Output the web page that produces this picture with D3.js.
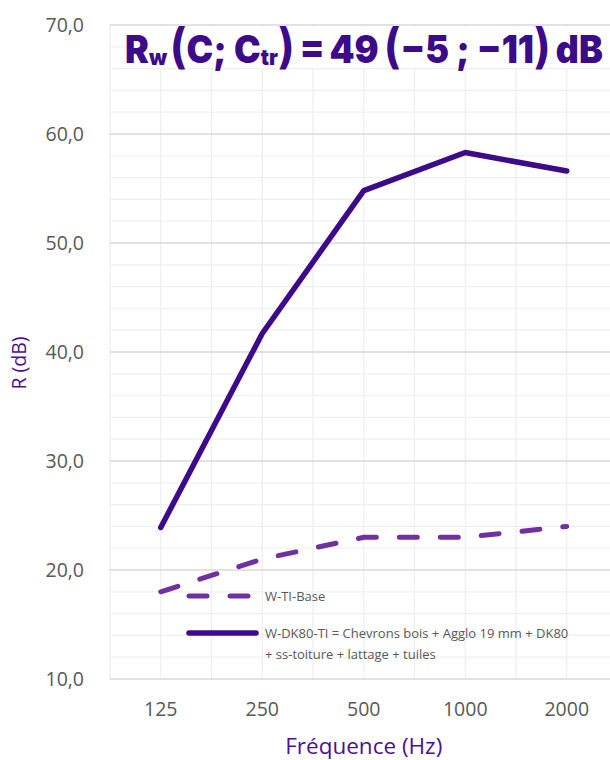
<!DOCTYPE html>
<html>
<head>
<meta charset="utf-8">
<script src="https://cdn.jsdelivr.net/npm/d3@7"></script>
<style>
  body { margin: 0; background: #fff; }
  svg { display: block; font-family: "Open Sans", sans-serif; }
</style>
</head>
<body>
<div id="chart"></div>
<script>
// data
const frequencies = ["125", "250", "500", "1000", "2000"];
const baseValues = [18.0, 21.0, 23.0, 23.0, 24.0];      // W-TI-Base (dashed)
const dk80Values = [23.9, 41.7, 54.8, 58.3, 56.6];      // W-DK80-TI (solid)
const yTicks = [10, 20, 30, 40, 50, 60, 70];
const legendLabels = [
  ["W-TI-Base"],
  ["W-DK80-TI = Chevrons bois + Agglo 19 mm + DK80", "+ ss-toiture + lattage + tuiles"]
];

const W = 610, H = 760;
const margin = { left: 110, top: 25, bottom: 81 };
const plotRight = 617.5;

const svg = d3.select("#chart").append("svg")
  .attr("width", W).attr("height", H);

const x = d3.scaleBand().domain(frequencies).range([margin.left, plotRight]).padding(0);
const bw = x.bandwidth();
const cx = d => x(d) + bw / 2;
const y = d3.scaleLinear().domain([10, 70]).range([H - margin.bottom, margin.top]);

// gridlines
const grid = svg.append("g");
const minor = d3.range(12, 70, 2).filter(v => v % 10 !== 0);
grid.selectAll(".hminor").data(minor).join("line")
  .attr("x1", margin.left).attr("x2", plotRight)
  .attr("y1", d => y(d)).attr("y2", d => y(d))
  .attr("stroke", "#f0f0f0").attr("stroke-width", 1.3);
const vlines = [];
frequencies.forEach(f => { vlines.push(x(f)); vlines.push(cx(f)); });
vlines.push(plotRight);
grid.selectAll(".v").data(vlines).join("line")
  .attr("x1", d => d).attr("x2", d => d)
  .attr("y1", y(70)).attr("y2", y(10))
  .attr("stroke", "#efefef").attr("stroke-width", 1.3);
grid.selectAll(".hmajor").data(yTicks).join("line")
  .attr("x1", margin.left).attr("x2", plotRight)
  .attr("y1", d => y(d)).attr("y2", d => y(d))
  .attr("stroke", "#d9d9d9").attr("stroke-width", 1.3);

// y axis tick labels
const yAxis = svg.append("g")
  .attr("transform", `translate(${margin.left - 23},0)`)
  .call(d3.axisLeft(y).tickValues(yTicks).tickSize(0).tickFormat(d => d3.format(".1f")(d).replace(".", ",")));
yAxis.select(".domain").remove();
yAxis.selectAll("text")
  .attr("font-family", "Open Sans, sans-serif")
  .attr("font-size", 19.5).attr("fill", "#595959");

// x axis tick labels
const xAxis = svg.append("g")
  .attr("transform", `translate(0,${y(10) + 20})`)
  .call(d3.axisBottom(x).tickSize(0));
xAxis.select(".domain").remove();
xAxis.selectAll("text")
  .attr("font-family", "Open Sans, sans-serif")
  .attr("font-size", 19.5).attr("fill", "#595959");

// axis titles
svg.append("text")
  .attr("x", cx("500")).attr("y", 754)
  .attr("text-anchor", "middle")
  .attr("font-size", 22.5).attr("fill", "#4a1290")
  .text("Fréquence (Hz)");
svg.append("text")
  .attr("transform", `translate(26,363) rotate(-90)`)
  .attr("text-anchor", "middle")
  .attr("font-size", 19.5).attr("fill", "#4a1290")
  .text("R (dB)");

// title with white box
svg.append("rect")
  .attr("x", 125).attr("y", 27).attr("width", 490).attr("height", 41)
  .attr("fill", "#fff");
const title = svg.append("text")
  .attr("x", 0).attr("y", 63)
  .attr("font-family", "Inter, sans-serif")
  .attr("font-weight", 900)
  .attr("font-size", 38)
  .attr("fill", "#3d0a8a");
const parts = [
  { t: "R", s: 38 }, { t: "w", s: 22, dy: 2 }, { t: "\u2009", s: 20, dy: -2 },
  { t: "(", s: 48, w: 700 }, { t: "C; C", s: 38 }, { t: "tr", s: 22, dy: 2 },
  { t: ")", s: 48, w: 700, dy: -2 }, { t: "\u2009=\u200949\u2009", s: 38 },
  { t: "(", s: 48, w: 700 }, { t: "−5 ; −11", s: 38 }, { t: ")", s: 48, w: 700 },
  { t: "\u2009dB", s: 38 }
];
parts.forEach(p => {
  title.append("tspan")
    .attr("font-size", p.s)
    .attr("font-weight", p.w || 900)
    .attr("dy", p.dy || 0)
    .text(p.t);
});
const tb = title.node().getBBox();
const tx0 = 125, tx1 = 603;
title.attr("transform", `translate(${tx0},0) scale(${(tx1 - tx0) / tb.width},1) translate(${-tb.x},0)`);

// lines
const line = d3.line().x((d, i) => cx(frequencies[i])).y(d => y(d));
svg.append("path").datum(baseValues)
  .attr("d", line).attr("fill", "none")
  .attr("stroke", "#7030a0").attr("stroke-width", 5)
  .attr("stroke-linecap", "round").attr("stroke-dasharray", "18,23");
svg.append("path").datum(dk80Values)
  .attr("d", line).attr("fill", "none")
  .attr("stroke", "#3d0a8a").attr("stroke-width", 5.5)
  .attr("stroke-linecap", "round").attr("stroke-linejoin", "round");

// legend
const lg = svg.append("g").attr("font-size", 13).attr("fill", "#595959");
const legendY = [596, 633];
const lx0 = 189, lx1 = 256;
lg.append("line").attr("x1", lx0).attr("x2", lx1).attr("y1", legendY[0]).attr("y2", legendY[0])
  .attr("stroke", "#7030a0").attr("stroke-width", 5)
  .attr("stroke-linecap", "round").attr("stroke-dasharray", "18,23");
lg.append("line").attr("x1", lx0).attr("x2", lx1).attr("y1", legendY[1]).attr("y2", legendY[1])
  .attr("stroke", "#3d0a8a").attr("stroke-width", 5.5)
  .attr("stroke-linecap", "round");
legendLabels.forEach((lines, i) => {
  const t = lg.append("text").attr("x", 265).attr("y", legendY[i] + 5);
  lines.forEach((l, j) => {
    t.append("tspan").attr("x", 265).attr("dy", j === 0 ? 0 : 21).text(l);
  });
});
</script>
</body>
</html>
